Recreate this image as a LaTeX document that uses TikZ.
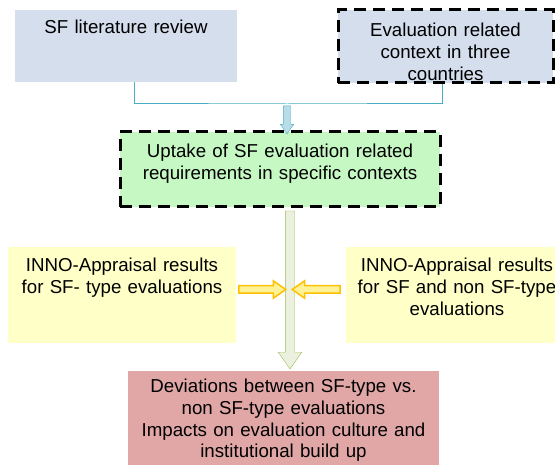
\documentclass[tikz,border=0pt]{standalone}
\usepackage{fontspec}
\setmainfont{Liberation Sans}
\usetikzlibrary{positioning,arrows.meta,shapes.arrows}

\definecolor{litblue}{RGB}{212,222,237}
\definecolor{uptakegreen}{RGB}{198,248,196}
\definecolor{innoyellow}{RGB}{255,255,200}
\definecolor{devred}{RGB}{225,167,167}
\definecolor{feedcyan}{RGB}{75,172,198}
\definecolor{feedfill}{RGB}{183,222,232}
\definecolor{spineline}{RGB}{155,187,89}
\definecolor{spinefill}{RGB}{235,241,222}
\definecolor{flowline}{RGB}{255,192,0}
\definecolor{flowfill}{RGB}{255,242,150}

\begin{document}
\begin{tikzpicture}[x=1pt, y=-1pt,
  every node/.style={font=\fontsize{18.7}{22}\selectfont},
  blk/.style={inner sep=0pt, align=center},
  dashblk/.style={blk, draw=black, line width=3pt, dash pattern=on 12pt off 7pt},
  fat/.style={single arrow, single arrow tip angle=70}]
  \useasboundingbox (0,0) rectangle (555,465);

  % top row
  \node[blk, fill=litblue, text width=222pt, text height=23.7pt, text depth=48.3pt] (litreview) at (126,46) {SF literature review};
  \node[dashblk, fill=litblue, text width=215pt, text height=26.7pt, text depth=46.3pt] (context) at (445.5,46.5) {Evaluation related\\context in three\\countries};

  % middle
  \node[dashblk, fill=uptakegreen, text width=320pt, text height=25.7pt, text depth=49.3pt] (uptake) at (280,169.5) {Uptake of SF evaluation related\\requirements in specific contexts};
  \node[blk, fill=innoyellow, text width=228pt, text height=24.7pt, text depth=71.3pt] (innosf) at (122,295) {INNO-Appraisal results\\for SF- type evaluations};
  \node[blk, fill=innoyellow, text width=222pt, text height=24.7pt, text depth=71.3pt] (innoall) at (457,295) {INNO-Appraisal results\\for SF and non SF-type\\evaluations};

  % bottom
  \node[blk, fill=devred, text width=311pt, text height=21pt, text depth=77pt] (deviations) at (283.5,420) {Deviations between SF-type vs.\\non SF-type evaluations\\Impacts on evaluation culture and\\institutional build up};

  \coordinate (join) at (287,104);
  \coordinate (mid) at (289,289.5);

  \draw[feedcyan, line width=1pt] ([xshift=8.5pt]litreview.south) |- (join) -| ([xshift=-3.5pt]context.south);
  \path (join) -- (join |- uptake.north) node[midway, fat, draw=feedcyan, fill=feedfill, shape border rotate=270,
    inner sep=3.5pt, single arrow head extend=3pt, minimum height=28pt] {};
  \path ([xshift=10pt]uptake.south) -- ([xshift=6.5pt, yshift=6pt]deviations.north) node[midway, fat, draw=spineline, fill=spinefill,
    shape border rotate=270, inner sep=4.5pt, single arrow head extend=7pt, minimum height=158pt] {};
  \path (innosf.east |- mid) -- ([xshift=-6pt]mid) node[midway, fat, draw=flowline, fill=flowfill, line width=1.5pt,
    inner sep=3pt, single arrow head extend=5pt, minimum height=47pt] {};
  \path ([xshift=-3pt]innoall.west |- mid) -- ([xshift=6pt]mid) node[midway, fat, draw=flowline, fill=flowfill, line width=1.5pt,
    shape border rotate=180, inner sep=3pt, single arrow head extend=5pt, minimum height=48pt] {};
\end{tikzpicture}
\end{document}
